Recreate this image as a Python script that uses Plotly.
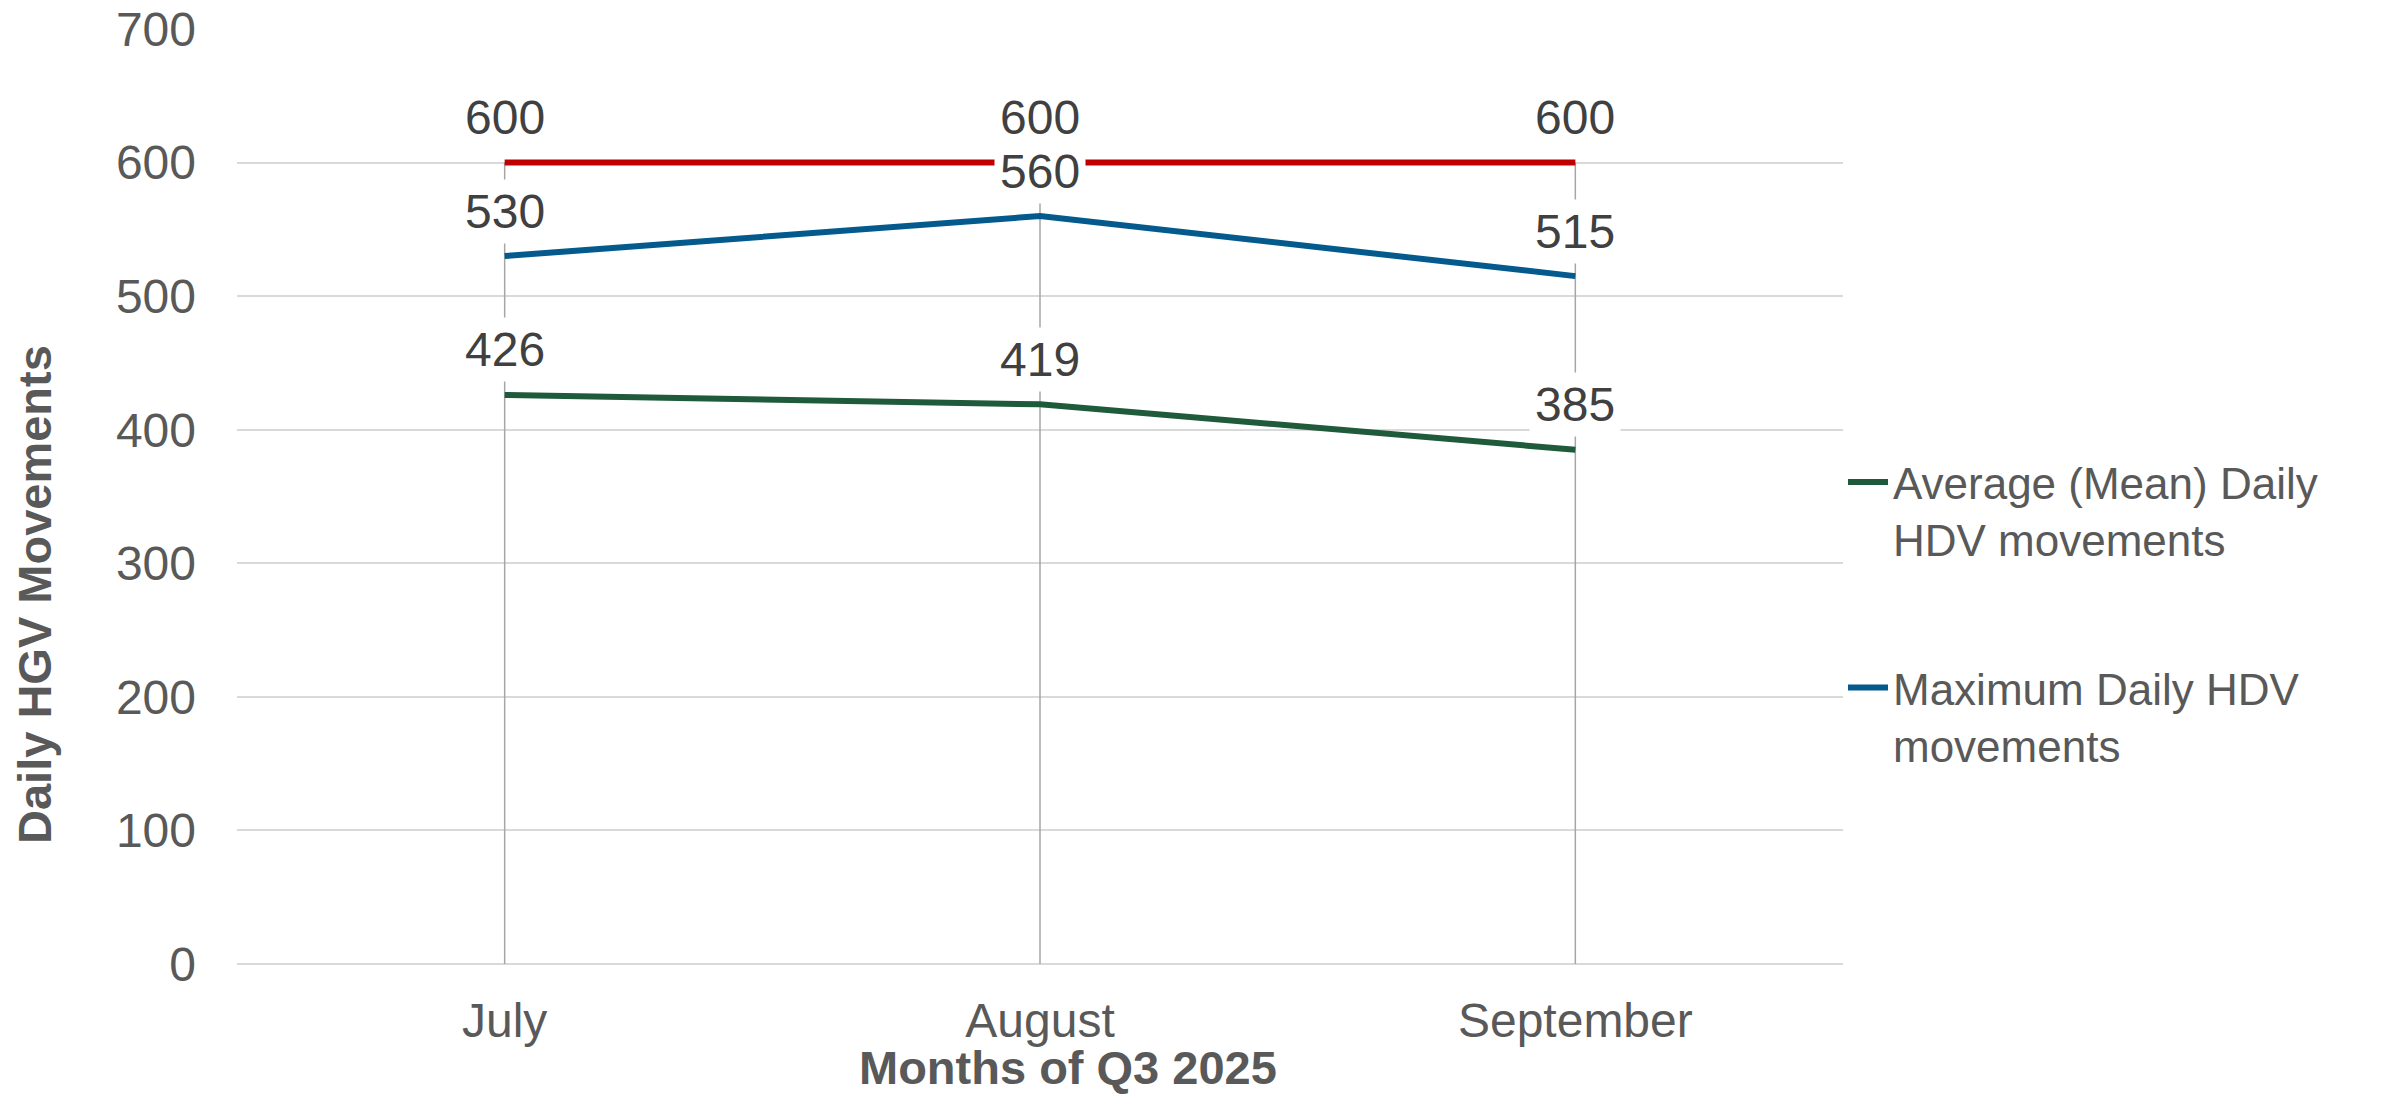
import plotly.graph_objects as go

months = ["July", "August", "September"]
avg_daily = [426, 419, 385]
max_daily = [530, 560, 515]
limit_daily = [600, 600, 600]

avg_name = "Average (Mean) Daily<br>HDV movements"
max_name = "Maximum Daily HDV<br>movements"
limit_name = "Daily HDV movement limit"

y_ticks = [0, 100, 200, 300, 400, 500, 600, 700]

FONT = "Arial, Liberation Sans, sans-serif"
GREEN = "#1F5A3A"
BLUE = "#045A8D"
RED = "#C00000"

fig = go.Figure()

# drop lines from axis up to the highest value at each category
top = [max(a, b, c) for a, b, c in zip(avg_daily, max_daily, limit_daily)]
dx, dy = [], []
for m, t in zip(months, top):
    dx += [m, m, None]
    dy += [0, t, None]
fig.add_trace(go.Scatter(x=dx, y=dy, mode="lines", line=dict(color="#A6A6A6", width=1.5),
                         showlegend=False, hoverinfo="skip"))

fig.add_trace(go.Scatter(x=months, y=limit_daily, mode="lines", name=limit_name,
                         line=dict(color=RED, width=6), showlegend=False))
fig.add_trace(go.Scatter(x=months, y=max_daily, mode="lines", name=max_name,
                         line=dict(color=BLUE, width=6), legendgroup="b", legendrank=2))
fig.add_trace(go.Scatter(x=months, y=avg_daily, mode="lines", name=avg_name,
                         line=dict(color=GREEN, width=6), legendgroup="a", legendrank=1))

W, H = 2392, 1096
L, R, T, B = 237, 2392 - 1843, 29, 1096 - 964
pw, ph = W - L - R, H - T - B

annotations = []
for series in (limit_daily, max_daily, avg_daily):
    for m, v in zip(months, series):
        annotations.append(dict(x=m, y=v, xref="x", yref="y", text=str(v), showarrow=False,
                                yshift=45, bgcolor="white", borderpad=5,
                                font=dict(family=FONT, size=48, color="#404040")))

annotations.append(dict(x=(34 - L) / pw, y=(H - B - 595) / ph, xref="paper", yref="paper",
                        text="<b>Daily HGV Movements</b>", showarrow=False, textangle=-90,
                        xanchor="center", yanchor="middle",
                        font=dict(family=FONT, size=47, color="#595959")))
annotations.append(dict(x=(1068 - L) / pw, y=(H - B - 1095) / ph, xref="paper", yref="paper",
                        text="<b>Months of Q3 2025</b>", showarrow=False,
                        xanchor="center", yanchor="bottom", borderpad=0,
                        font=dict(family=FONT, size=47, color="#595959")))

fig.update_layout(
    width=W, height=H,
    margin=dict(l=L, r=R, t=T, b=B, pad=0, autoexpand=False),
    paper_bgcolor="white", plot_bgcolor="white",
    font=dict(family=FONT, size=48, color="#595959"),
    xaxis=dict(type="category", categoryorder="array", categoryarray=months,
               range=[-0.5, 2.5], showgrid=False, zeroline=False, showline=False,
               ticks="", ticklabelstandoff=24, automargin=False,
               tickfont=dict(family=FONT, size=48, color="#595959")),
    yaxis=dict(range=[0, 700], tickvals=y_ticks, showgrid=True, gridcolor="#D9D9D9",
               gridwidth=2, zeroline=True, zerolinecolor="#D9D9D9", zerolinewidth=2,
               showline=False, ticks="", ticklabelstandoff=40, automargin=False,
               tickfont=dict(family=FONT, size=48, color="#595959")),
    legend=dict(x=1.0, xanchor="left", y=0.553, yanchor="top", traceorder="grouped",
                tracegroupgap=88, valign="top", itemwidth=40,
                font=dict(family=FONT, size=44, color="#595959"), bgcolor="rgba(0,0,0,0)"),
    annotations=annotations,
    showlegend=True,
)

fig.write_html("out.html", config={"displayModeBar": False},
               post_script="document.body.style.margin='0px';")
